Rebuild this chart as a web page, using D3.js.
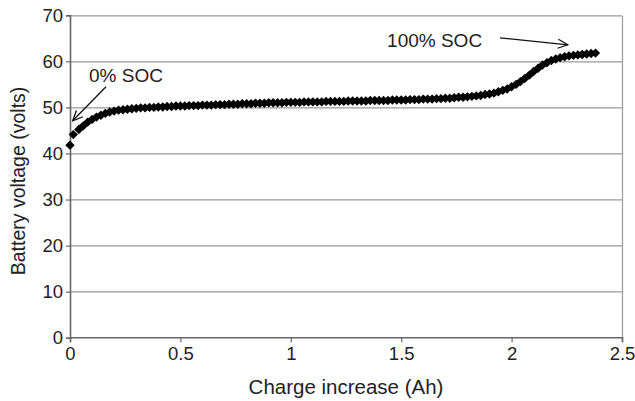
<!DOCTYPE html>
<html>
<head>
<meta charset="utf-8">
<script src="https://cdn.jsdelivr.net/npm/d3@7"></script>
<style>
  body { margin: 0; background: #fff; }
  svg { display: block; font-family: "Liberation Sans", Arial, sans-serif; }
</style>
</head>
<body>
<div id="chart"></div>
<script>
// Data
var charge = [0, 0.015, 0.04, 0.06, 0.08, 0.10, 0.12, 0.14, 0.16, 0.18,
  0.20, 0.22, 0.24, 0.26, 0.28, 0.30, 0.32, 0.34, 0.36, 0.38,
  0.40, 0.42, 0.44, 0.46, 0.48, 0.50, 0.52, 0.54, 0.56, 0.58,
  0.60, 0.62, 0.64, 0.66, 0.68, 0.70, 0.72, 0.74, 0.76, 0.78,
  0.80, 0.82, 0.84, 0.86, 0.88, 0.90, 0.92, 0.94, 0.96, 0.98,
  1.00, 1.02, 1.04, 1.06, 1.08, 1.10, 1.12, 1.14, 1.16, 1.18,
  1.20, 1.22, 1.24, 1.26, 1.28, 1.30, 1.32, 1.34, 1.36, 1.38,
  1.40, 1.42, 1.44, 1.46, 1.48, 1.50, 1.52, 1.54, 1.56, 1.58,
  1.60, 1.62, 1.64, 1.66, 1.68, 1.70, 1.72, 1.74, 1.76, 1.78,
  1.80, 1.82, 1.84, 1.86, 1.88, 1.90, 1.92, 1.94, 1.96, 1.98,
  2.00, 2.02, 2.04, 2.06, 2.08, 2.10, 2.12, 2.14, 2.16, 2.18,
  2.20, 2.22, 2.24, 2.26, 2.28, 2.30, 2.32, 2.34, 2.36, 2.38];

var voltage = [41.8, 44.1, 45.2, 46.0, 46.8, 47.4, 47.9, 48.3, 48.7, 49.0,
  49.2, 49.4, 49.5, 49.6, 49.7, 49.8, 49.9, 49.9, 50.0, 50.0,
  50.1, 50.1, 50.2, 50.2, 50.3, 50.3, 50.3, 50.4, 50.4, 50.4,
  50.5, 50.5, 50.5, 50.6, 50.6, 50.6, 50.7, 50.7, 50.7, 50.8,
  50.8, 50.8, 50.9, 50.9, 50.9, 51.0, 51.0, 51.0, 51.0, 51.1,
  51.1, 51.1, 51.1, 51.2, 51.2, 51.2, 51.2, 51.2, 51.3, 51.3,
  51.3, 51.3, 51.3, 51.4, 51.4, 51.4, 51.4, 51.4, 51.5, 51.5,
  51.5, 51.5, 51.5, 51.6, 51.6, 51.6, 51.6, 51.7, 51.7, 51.7,
  51.8, 51.8, 51.8, 51.9, 51.9, 52.0, 52.0, 52.1, 52.2, 52.2,
  52.3, 52.4, 52.5, 52.6, 52.8, 52.9, 53.1, 53.4, 53.7, 54.0,
  54.5, 55.0, 55.6, 56.3, 57.0, 57.8, 58.5, 59.2, 59.7, 60.2,
  60.5, 60.8, 61.0, 61.2, 61.3, 61.4, 61.5, 61.6, 61.7, 61.8];

var xTicks = [0, 0.5, 1, 1.5, 2, 2.5];
var yTicks = [0, 10, 20, 30, 40, 50, 60, 70];

var xLabel = "Charge increase (Ah)";
var yLabel = "Battery voltage (volts)";

// annotations: text plus arrow tail/tip in data units
var notes = [
  {text: "0% SOC", tx: 0.086, ty: 55.6, from: [0.163, 54.5], to: [0.012, 47.1]},
  {text: "100% SOC", tx: 1.436, ty: 63.1, from: [1.947, 65.1], to: [2.255, 63.6]}
];

var W = 635, H = 401;
var margin = {top: 15.3, right: 13, bottom: 63.3, left: 70};
var width = W - margin.left - margin.right,
    height = H - margin.top - margin.bottom;

var x = d3.scaleLinear().domain([0, 2.5]).range([0, width]);
var y = d3.scaleLinear().domain([0, 70]).range([height, 0]);

var svg = d3.select("#chart").append("svg")
    .attr("width", W)
    .attr("height", H);

svg.append("defs").append("marker")
    .attr("id", "arrow")
    .attr("viewBox", "0 0 12 12")
    .attr("refX", 11)
    .attr("refY", 6)
    .attr("markerWidth", 12)
    .attr("markerHeight", 12)
    .attr("markerUnits", "userSpaceOnUse")
    .attr("orient", "auto")
  .append("path")
    .attr("d", "M1,1.5L11,6L1,10.5")
    .style("fill", "none")
    .style("stroke", "#111")
    .style("stroke-width", 1.3);

var g = svg.append("g")
    .attr("transform", "translate(" + margin.left + "," + margin.top + ")");

//Gridlines
g.selectAll(".grid").data(yTicks.filter(function(d){ return d > 0; }))
  .enter().append("line")
    .attr("class", "grid")
    .attr("x1", 0)
    .attr("x2", width)
    .attr("y1", function(d){ return Math.round(y(d)) + 0.5; })
    .attr("y2", function(d){ return Math.round(y(d)) + 0.5; })
    .style("stroke", "#9a9a9a")
    .style("stroke-width", 1.2);

// right border
g.append("line")
    .attr("x1", width + 0.5).attr("x2", width + 0.5)
    .attr("y1", Math.round(y(70)) + 0.5).attr("y2", height)
    .style("stroke", "#9a9a9a")
    .style("stroke-width", 1.2);

//X axis
var xAxis = g.append("g")
    .attr("transform", "translate(0," + Math.round(height) + ")")
    .call(d3.axisBottom(x).tickValues(xTicks).tickSize(5).tickFormat(d3.format("")));

//Y axis
var yAxis = g.append("g")
    .call(d3.axisLeft(y).tickValues(yTicks).tickSize(4));

[xAxis, yAxis].forEach(function(ax){
  ax.select(".domain").style("stroke", "#666").style("stroke-width", 1.6);
  ax.selectAll(".tick line").style("stroke", "#666").style("stroke-width", 1.2);
  ax.selectAll("text")
    .style("font-size", "18.5px")
    .style("fill", "#222")
    .style("font-family", "'Liberation Sans', Arial, sans-serif");
});
xAxis.selectAll("text").attr("dy", "0.71em").attr("y", 10);
yAxis.selectAll("text").attr("x", -7);

//Data markers
var points = charge.map(function(c, i){ return {x: c, y: voltage[i]}; });
var diamond = d3.symbol().type(d3.symbolSquare).size(44);

g.selectAll(".pt").data(points)
  .enter().append("path")
    .attr("class", "pt")
    .attr("d", diamond)
    .attr("transform", function(d){ return "translate(" + x(d.x) + "," + y(d.y) + ") rotate(45)"; })
    .style("fill", "#000");

//Annotations
notes.forEach(function(n){
  g.append("text")
    .attr("x", x(n.tx))
    .attr("y", y(n.ty))
    .style("font-size", "19px")
    .style("fill", "#222")
    .text(n.text);

  g.append("line")
    .attr("x1", x(n.from[0])).attr("y1", y(n.from[1]))
    .attr("x2", x(n.to[0])).attr("y2", y(n.to[1]))
    .style("stroke", "#111")
    .style("stroke-width", 1.3)
    .attr("marker-end", "url(#arrow)");
});

//Axis titles
svg.append("text")
    .attr("x", margin.left + width / 2)
    .attr("y", 394)
    .style("text-anchor", "middle")
    .style("font-size", "20.5px")
    .style("fill", "#222")
    .text(xLabel);

svg.append("text")
    .attr("transform", "translate(25," + 181 + ") rotate(-90)")
    .style("text-anchor", "middle")
    .style("font-size", "19.5px")
    .style("fill", "#222")
    .text(yLabel);
</script>
</body>
</html>
